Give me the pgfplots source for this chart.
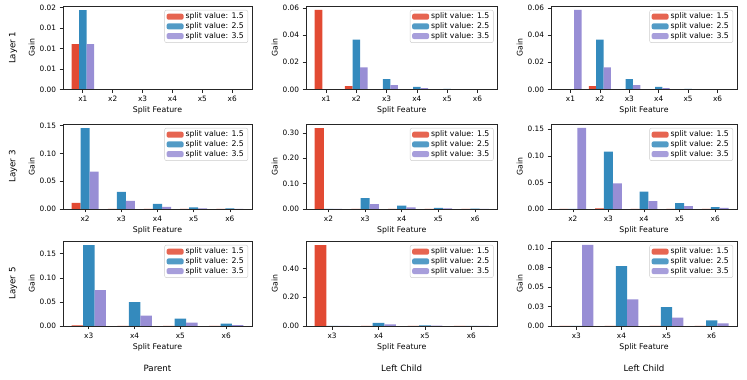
\documentclass[border=0pt]{standalone}
\usepackage{fontspec}
\setmainfont{DejaVu Sans}
\usepackage{pgfplots}
\usepackage{pgfplotstable}
\pgfplotsset{compat=1.18}

\definecolor{cred}{HTML}{E24A33}
\definecolor{cblue}{HTML}{348ABD}
\definecolor{cpurple}{HTML}{988ED5}

\newcommand\tck{\fontsize{7.4}{8.5}\selectfont}
\newcommand\lbl{\fontsize{7.8}{9}\selectfont}
\newcommand\ttl{\fontsize{8.7}{10}\selectfont}
\newcommand\leg{\legend{split value: 1.5,split value: 2.5,split value: 3.5}}

% one table per panel: row (layer) A/B/C, column p (parent), l (left child), r (third)
\pgfplotstableread{
idx red blue purple
0 0.0111 0.0194 0.0111
1 0 0 0
2 0 0 0
3 0 0 0
4 0 0 0
5 0 0 0
}\tAp
\pgfplotstableread{
idx red blue purple
0 0.0585 0 0
1 0.0024 0.0366 0.0163
2 0 0.0076 0.0032
3 0 0.0020 0.0010
4 0 0.0005 0.0002
5 0 0.0001 0.0001
}\tAl
\pgfplotstableread{
idx red blue purple
0 0 0 0.0585
1 0.0024 0.0366 0.0163
2 0 0.0076 0.0032
3 0 0.0020 0.0010
4 0 0.0005 0.0002
5 0 0.0001 0.0001
}\tAr
\pgfplotstableread{
idx red blue purple
0 0.0109 0.1458 0.0671
1 0 0.0309 0.0145
2 0 0.0091 0.0036
3 0 0.0030 0.0012
4 0 0.0010 0.0004
}\tBp
\pgfplotstableread{
idx red blue purple
0 0.319 0 0
1 0 0.0429 0.0195
2 0 0.0130 0.0065
3 0 0.0040 0.0020
4 0 0.0010 0.0005
}\tBl
\pgfplotstableread{
idx red blue purple
0 0 0 0.1525
1 0.0010 0.1080 0.0480
2 0 0.0327 0.0148
3 0 0.0111 0.0056
4 0 0.0037 0.0020
}\tBr
\pgfplotstableread{
idx red blue purple
0 0.0012 0.1680 0.0743
1 0 0.0493 0.0215
2 0 0.0153 0.0069
3 0 0.0049 0.0020
}\tCp
\pgfplotstableread{
idx red blue purple
0 0.562 0 0
1 0 0.0210 0.0116
2 0 0.0050 0.0020
3 0 0.0010 0.0005
}\tCl
\pgfplotstableread{
idx red blue purple
0 0 0 0.1040
1 0 0.0767 0.0340
2 0 0.0241 0.0108
3 0 0.0073 0.0034
}\tCr

\pgfplotsset{
  panel/.style={
    scale only axis, anchor=south west,
    ybar=0pt, bar width=0.25,
    ymin=0, enlargelimits=false,
    axis on top,
    axis line style={black!85, line width=0.6bp},
    every tick/.style={black!85, line width=0.6bp},
    tick align=outside, tick pos=left,
    major tick length=3.5bp,
    xtick=data,
    scaled y ticks=false,
    xlabel={Split Feature}, ylabel={Gain},
    label style={font=\lbl},
    tick label style={font=\tck},
    xlabel style={yshift=2bp},
    ylabel style={yshift=-2bp},
    legend style={at={(1,1)}, xshift=-3.9bp, yshift=-3.9bp, anchor=north east,
      draw=black!20, rounded corners=2bp, fill=white, fill opacity=0.85,
      text opacity=1, font=\lbl, inner xsep=2bp, inner ysep=1.5bp,
      row sep=-0.5bp, nodes={inner ysep=1.4bp}},
    legend cell align=left,
    legend image code/.code={\path[##1] (0bp,-3bp) rectangle (17bp,3bp);},
    cycle list={{fill=cred,draw=none},{fill=cblue,draw=none},{fill=cpurple,draw=none}},
  },
  six/.style={xmin=-0.6625, xmax=5.6625, xticklabels={x1,x2,x3,x4,x5,x6}},
  five/.style={xmin=-0.6125, xmax=4.6125, xticklabels={x2,x3,x4,x5,x6}},
  four/.style={xmin=-0.5625, xmax=3.5625, xticklabels={x3,x4,x5,x6}},
}

\begin{document}
\begin{tikzpicture}
\useasboundingbox (0,0) rectangle (747bp,380bp);

% ---- row 1 : Layer 1
\begin{axis}[panel, six, at={(63bp,290.5bp)}, width=189bp, height=83.5bp,
  ymax=0.0204, ytick={0,0.005,0.01,0.015,0.02},
  yticklabels={0.00,0.01,0.01,0.01,0.02}]
\addplot table[x=idx,y=red] {\tAp};
\addplot table[x=idx,y=blue] {\tAp};
\addplot table[x=idx,y=purple] {\tAp};
\leg
\end{axis}
\begin{axis}[panel, six, at={(306bp,290.5bp)}, width=191.5bp, height=83.5bp,
  ymax=0.0614, ytick={0,0.02,0.04,0.06},
  yticklabels={0.00,0.02,0.04,0.06}]
\addplot table[x=idx,y=red] {\tAl};
\addplot table[x=idx,y=blue] {\tAl};
\addplot table[x=idx,y=purple] {\tAl};
\leg
\end{axis}
\begin{axis}[panel, six, at={(551bp,290.5bp)}, width=186bp, height=83.5bp,
  ymax=0.0614, ytick={0,0.02,0.04,0.06},
  yticklabels={0.00,0.02,0.04,0.06}]
\addplot table[x=idx,y=red] {\tAr};
\addplot table[x=idx,y=blue] {\tAr};
\addplot table[x=idx,y=purple] {\tAr};
\leg
\end{axis}

% ---- row 2 : Layer 3
\begin{axis}[panel, five, at={(63bp,171bp)}, width=189bp, height=85bp,
  ymax=0.1531, ytick={0,0.05,0.1,0.15},
  yticklabels={0.00,0.05,0.10,0.15}]
\addplot table[x=idx,y=red] {\tBp};
\addplot table[x=idx,y=blue] {\tBp};
\addplot table[x=idx,y=purple] {\tBp};
\leg
\end{axis}
\begin{axis}[panel, five, at={(306bp,171bp)}, width=191.5bp, height=85bp,
  ymax=0.335, ytick={0,0.1,0.2,0.3},
  yticklabels={0.00,0.10,0.20,0.30}]
\addplot table[x=idx,y=red] {\tBl};
\addplot table[x=idx,y=blue] {\tBl};
\addplot table[x=idx,y=purple] {\tBl};
\leg
\end{axis}
\begin{axis}[panel, five, at={(551bp,171bp)}, width=186bp, height=85bp,
  ymax=0.160, ytick={0,0.05,0.1,0.15},
  yticklabels={0.00,0.05,0.10,0.15}]
\addplot table[x=idx,y=red] {\tBr};
\addplot table[x=idx,y=blue] {\tBr};
\addplot table[x=idx,y=purple] {\tBr};
\leg
\end{axis}

% ---- row 3 : Layer 5
\begin{axis}[panel, four, at={(63bp,54bp)}, width=189bp, height=85bp,
  ymax=0.1764, ytick={0,0.05,0.1,0.15},
  yticklabels={0.00,0.05,0.10,0.15}]
\addplot table[x=idx,y=red] {\tCp};
\addplot table[x=idx,y=blue] {\tCp};
\addplot table[x=idx,y=purple] {\tCp};
\leg
\end{axis}
\begin{axis}[panel, four, at={(306bp,54bp)}, width=191.5bp, height=85bp,
  ymax=0.590, ytick={0,0.2,0.4},
  yticklabels={0.00,0.20,0.40}]
\addplot table[x=idx,y=red] {\tCl};
\addplot table[x=idx,y=blue] {\tCl};
\addplot table[x=idx,y=purple] {\tCl};
\leg
\end{axis}
\begin{axis}[panel, four, at={(551bp,54bp)}, width=186bp, height=85bp,
  ymax=0.109, ytick={0,0.025,0.05,0.075,0.1},
  yticklabels={0.00,0.03,0.05,0.08,0.10}]
\addplot table[x=idx,y=red] {\tCr};
\addplot table[x=idx,y=blue] {\tCr};
\addplot table[x=idx,y=purple] {\tCr};
\leg
\end{axis}

% row and column titles
\node[rotate=90, font=\ttl] at (13bp,332.25bp) {Layer 1};
\node[rotate=90, font=\ttl] at (13bp,213.5bp) {Layer 3};
\node[rotate=90, font=\ttl] at (13bp,96.5bp) {Layer 5};
\node[font=\ttl] at (157.5bp,12bp) {Parent};
\node[font=\ttl] at (401.7bp,12bp) {Left Child};
\node[font=\ttl] at (644bp,12bp) {Left Child};
\end{tikzpicture}
\end{document}
